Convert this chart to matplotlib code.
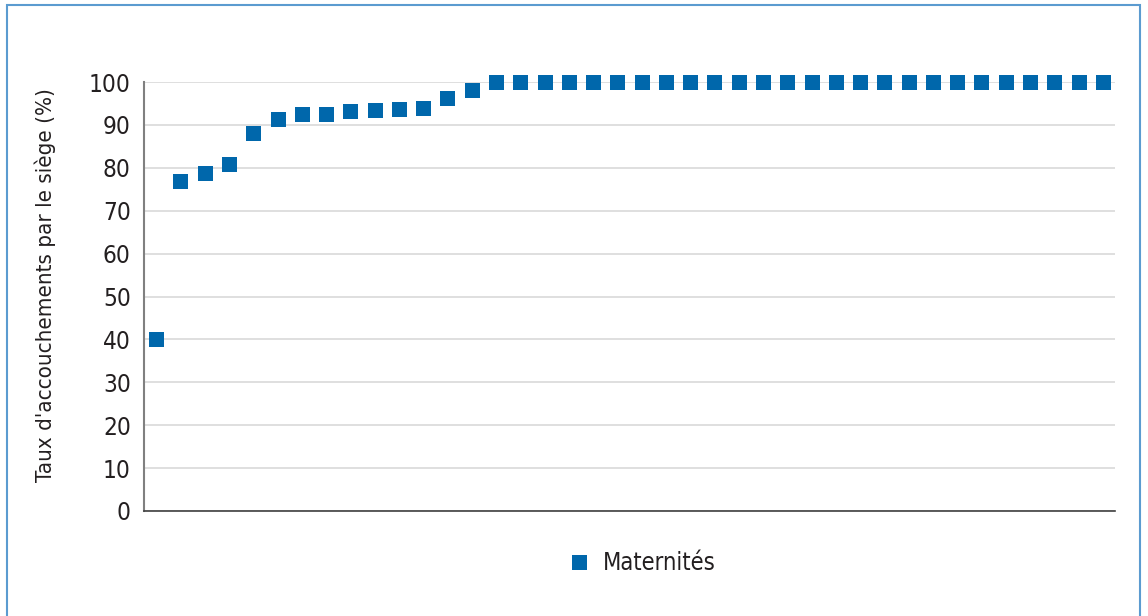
import matplotlib
matplotlib.use('Agg')
import matplotlib.pyplot as plt
from matplotlib.patches import Rectangle
from matplotlib.lines import Line2D

plt.rcParams['font.family'] = ['DejaVu Sans', 'Noto Sans']
plt.rcParams['font.stretch'] = 'condensed'

# taux par maternité, triés
taux = [40, 77, 78.7, 80.8, 88, 91.3, 92.5, 92.5, 93.2, 93.4, 93.6, 93.9, 96.2, 98.1] + [100] * 26
maternites = list(range(1, len(taux) + 1))
yticks = list(range(0, 101, 10))

blue = '#0067ab'

fig = plt.figure(figsize=(11.48, 6.16), dpi=100)
ax = fig.add_axes([144 / 1148, 105 / 616, 971 / 1148, 429 / 616])

ax.plot(maternites, taux, linestyle='none', marker='s', markersize=10.8,
        color=blue, markeredgewidth=0, zorder=3, clip_on=False)

ax.set_xlim(0.5, len(taux) + 0.5)
ax.set_ylim(0, 100)
ax.set_yticks(yticks)
ax.set_xticks([])
ax.yaxis.grid(True, color='#d9d9d9', linewidth=1.2)
ax.set_axisbelow(True)
ax.tick_params(axis='y', length=0, labelsize=17.5, colors='#231f20', pad=9.5)
for s in ['top', 'right']:
    ax.spines[s].set_visible(False)
ax.spines['left'].set_color('#808080')
ax.spines['left'].set_linewidth(1.5)
ax.spines['bottom'].set_color('#404040')
ax.spines['bottom'].set_linewidth(1.2)
ax.set_ylabel("Taux d'accouchements par le siège (%)", fontsize=16,
              color='#231f20')
ax.yaxis.set_label_coords((56 - 144) / 971, (511 - 285) / 429)

handle = Line2D([], [], linestyle='none', marker='s', markersize=10.8,
                color=blue, markeredgewidth=0)
fig.legend([handle], ['Maternités'], loc='center left', bbox_to_anchor=(0.4655, 0.086),
           frameon=False, fontsize=17, handletextpad=0.0, labelcolor='#231f20')

fig.patches.append(Rectangle((7 / 1148, -0.01), 1133 / 1148, 1 - 5 / 616 + 0.01,
                             transform=fig.transFigure, fill=False,
                             edgecolor='#5b9bd0', linewidth=1.5))

fig.savefig('out.png', dpi=100)
